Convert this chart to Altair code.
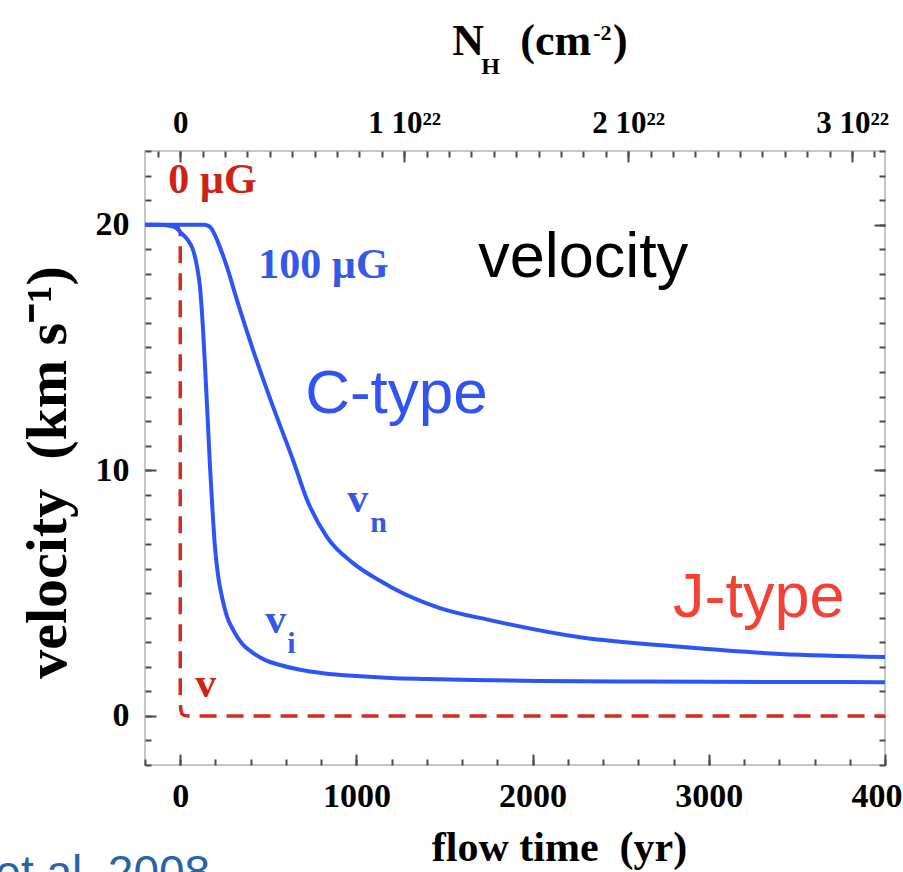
import altair as alt
import pandas as pd

# ---- curves: flow time (yr) vs velocity (km/s) ----
# J-type shock, 0 microgauss (single fluid velocity)
j_time = [-200, -20, 0, 0, 3, 10, 22, 45, 4000]
j_vel = [20.0, 20.0, 19.7, 0.6, 0.25, 0.08, 0.02, 0.0, 0.0]

# C-type shock, 100 microgauss: ion velocity
vi_time = [-200, -120, -60, -20, 0, 40, 73, 95, 112, 128, 141, 155, 169, 183, 197,
           215, 237, 265, 300, 350, 414, 480, 567, 680, 811, 1000, 1190, 1400,
           1661, 2042, 2500, 3000, 3500, 4000]
vi_vel = [20.0, 20.0, 19.95, 19.85, 19.7, 19.4, 18.97, 18.3, 17.46, 15.9, 14.2, 12.2,
          10.14, 8.4, 6.88, 5.7, 4.84, 4.05, 3.5, 2.95, 2.56, 2.28, 2.07, 1.88,
          1.74, 1.62, 1.54, 1.5, 1.46, 1.42, 1.4, 1.39, 1.38, 1.37]

# C-type shock, 100 microgauss: neutral velocity
vn_time = [-200, 0, 100, 129, 160, 181, 215, 265, 322, 413, 527, 640, 720, 833,
           981, 1134, 1208, 1474, 1758, 2270, 2837, 3405, 4000]
vn_vel = [20.0, 20.0, 20.0, 20.0, 19.95, 19.8, 19.27, 18.28, 16.93, 14.9, 12.58,
          10.42, 8.79, 7.28, 6.22, 5.5, 5.2, 4.39, 3.9, 3.2, 2.81, 2.52, 2.4]

# ---- tick positions ----
time_major = [0, 1000, 2000, 3000, 4000]
time_minor = list(range(-200, 4001, 200))
vel_major = [0, 10, 20]
vel_minor = list(range(-2, 24))
nh_major = [0, 1, 2, 3]                               # units of 1e22 cm^-2
nh_minor = [round(k / 10, 1) for k in range(-1, 32)]

SERIF = "Liberation Serif"
SANS = "Liberation Sans"
TICK = "#4a4a4a"
BLUE = "#2d55f5"
RED = "#d42b1f"

tscale = alt.Scale(domain=[-200, 4000], nice=False, zero=False)
vscale = alt.Scale(domain=[-2, 23], nice=False, zero=False)
nscale = alt.Scale(domain=[-0.157, 3.147], nice=False, zero=False)


def tick_axis(orient, values, size):
    # inward-pointing ticks: pull the axis into the plot by its own tick length
    return alt.Axis(orient=orient, values=values, labels=False, domain=False, grid=False,
                    ticks=True, tickSize=size, offset=-size, tickColor=TICK, tickWidth=2,
                    title=None)


x_label_axis = alt.Axis(orient="bottom", values=time_major, ticks=False, domain=False,
                        grid=False, format="d", labelFlush=False, labelOverlap=False,
                        labelFont=SERIF, labelFontWeight="bold", labelFontSize=34,
                        labelColor="black", labelPadding=14,
                        title="flow time\u00a0\u00a0(yr)", titleFont=SERIF,
                        titleFontWeight="bold", titleFontSize=42, titleColor="black",
                        titleX=414, titleY=95, titleBaseline="alphabetic")

y_label_axis = alt.Axis(orient="left", values=vel_major, ticks=False, domain=False,
                        grid=False, format="d", labelFlush=False, labelOverlap=False,
                        labelFont=SERIF, labelFontWeight="bold", labelFontSize=34,
                        labelColor="black", labelPadding=16,
                        title="velocity\u00a0\u00a0(km s\u207b\u00b9)", titleFont=SERIF,
                        titleFontWeight="bold", titleFontSize=58, titleColor="black",
                        titleX=-80, titleY=321, titleBaseline="alphabetic", titleAngle=270)

top_label_axis = alt.Axis(orient="top", values=nh_major, ticks=False, domain=False,
                          grid=False, labelFlush=False, labelOverlap=False,
                          labelExpr="datum.value == 0 ? '0' : datum.value + ' 10\u00b2\u00b2'",
                          labelFont=SERIF, labelFontWeight="bold", labelFontSize=31,
                          labelColor="black", labelPadding=12, title=None)


def curve(t, v, color, width, xaxis, yaxis, dash=None, smooth=False):
    df = pd.DataFrame({"t": t, "v": v, "i": range(len(t))})
    opts = dict(color=color, strokeWidth=width, clip=True, strokeCap="butt")
    if dash:
        opts["strokeDash"] = dash
    if smooth:
        opts["interpolate"] = "monotone"
    return alt.Chart(df).mark_line(**opts).encode(
        x=alt.X("t:Q", scale=tscale, axis=xaxis),
        y=alt.Y("v:Q", scale=vscale, axis=yaxis),
        order="i:Q",
    )


def ghost_x(values, axis):
    df = pd.DataFrame({"n": values})
    return alt.Chart(df).mark_point(opacity=0).encode(
        x=alt.X("n:Q", scale=nscale, axis=axis))


def ghost_y(values, axis):
    df = pd.DataFrame({"v": values})
    return alt.Chart(df).mark_point(opacity=0).encode(
        y=alt.Y("v:Q", scale=vscale, axis=axis))


def label(texts, ts, vs, color, font, size, weight="bold", align="left"):
    df = pd.DataFrame({"label": texts, "t": ts, "v": vs})
    return alt.Chart(df).mark_text(align=align, baseline="alphabetic", font=font,
                                   fontSize=size, fontWeight=weight, color=color).encode(
        x=alt.X("t:Q", scale=tscale, axis=None),
        y=alt.Y("v:Q", scale=vscale, axis=None),
        text="label:N",
    )


layers = [
    curve(j_time, j_vel, RED, 3.5, x_label_axis, y_label_axis, dash=[17, 10]),
    curve(vi_time, vi_vel, BLUE, 4, tick_axis("bottom", time_major, 11),
          tick_axis("left", vel_major, 11), smooth=True),
    curve(vn_time, vn_vel, BLUE, 4, tick_axis("bottom", time_minor, 6),
          tick_axis("left", vel_minor, 6), smooth=True),
    ghost_x(nh_major, top_label_axis),
    ghost_x(nh_major, tick_axis("top", nh_major, 11)),
    ghost_x(nh_minor, tick_axis("top", nh_minor, 6)),
    ghost_y(vel_major, tick_axis("right", vel_major, 11)),
    ghost_y(vel_minor, tick_axis("right", vel_minor, 6)),
    # field strength labels
    label(["0 \u00b5G"], [-68], [21.29], "#cc2318", SERIF, 42),
    label(["100 \u00b5G"], [443], [17.83], "#3558e8", SERIF, 42),
    # curve names with subscripts
    label(["v", "v"], [948, 482], [8.30, 3.38], "#3558e8", SERIF, 42),
    label(["n", "i"], [1078, 607], [7.49, 2.56], "#3558e8", SERIF, 30),
    label(["v"], [85], [0.77], "#cc2318", SERIF, 42),
    # overlay captions
    label(["velocity"], [1691], [17.87], "black", SANS, 63, weight="normal"),
    label(["C-type"], [709], [12.33], "#3352f2", SANS, 62, weight="normal"),
    label(["J-type"], [2797], [4.03], "#f24236", SANS, 63, weight="normal"),
    label(["et al. 2008"], [170], [-7.0], "#2a62a8", SANS, 46, weight="normal",
          align="right"),
    # column density axis title: N_H (cm^-2)
    label(["N", "(cm", ")"], [1544, 1930, 2456], [26.9, 26.9, 26.9], "black", SERIF, 44),
    label(["H"], [1708], [26.15], "black", SERIF, 24),
    label(["-2"], [2344], [27.5], "black", SERIF, 22),
]

chart = (
    alt.layer(*layers)
    .resolve_scale(x="independent")
    .resolve_axis(x="independent", y="independent")
    .properties(width=740, height=614,
                padding={"left": 145, "top": 151, "right": 18, "bottom": 107},
                autosize=alt.AutoSizeParams(type="none"),
                background="white")
    .configure_view(stroke="#c6c6c6", strokeWidth=2)
)

chart.save("out.html", embed_options={"renderer": "svg", "actions": False})
